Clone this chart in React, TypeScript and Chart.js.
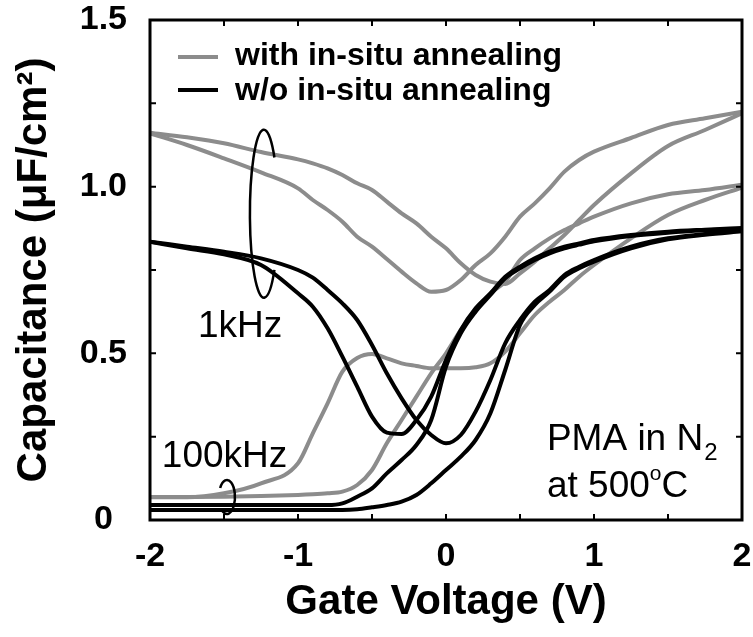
import React, { useEffect, useRef } from 'react';
import { Chart, registerables } from 'chart.js';

Chart.register(...registerables);

// Gate voltage grid (V)
const gateVoltage = [-2, -1.75, -1.5, -1.25, -1, -0.9, -0.8, -0.7, -0.6, -0.5, -0.4, -0.3, -0.2, -0.1, 0, 0.1, 0.2, 0.3, 0.4, 0.5, 0.6, 0.7, 0.8, 0.9, 1, 1.25, 1.5, 1.75, 2];

// with in-situ annealing (gray)
const with1kHzSweepA = [1.16, 1.125, 1.085, 1.043, 0.995, 0.96, 0.93, 0.895, 0.85, 0.82, 0.783, 0.745, 0.71, 0.685, 0.69, 0.72, 0.765, 0.8, 0.85, 0.91, 0.95, 0.995, 1.045, 1.08, 1.105, 1.146, 1.185, 1.205, 1.225];
const with1kHzSweepB = [1.162, 1.148, 1.13, 1.104, 1.082, 1.07, 1.055, 1.035, 1.01, 0.99, 0.955, 0.92, 0.89, 0.85, 0.815, 0.77, 0.735, 0.715, 0.708, 0.74, 0.775, 0.815, 0.855, 0.9, 0.945, 1.04, 1.122, 1.17, 1.22];
const with100kHzSweepA = [0.068, 0.068, 0.08, 0.11, 0.17, 0.26, 0.35, 0.445, 0.486, 0.498, 0.485, 0.47, 0.462, 0.455, 0.455, 0.455, 0.458, 0.47, 0.505, 0.56, 0.615, 0.655, 0.69, 0.73, 0.765, 0.845, 0.915, 0.96, 0.997];
const with100kHzSweepB = [0.069, 0.069, 0.07, 0.072, 0.075, 0.077, 0.08, 0.085, 0.105, 0.15, 0.23, 0.3, 0.37, 0.44, 0.5, 0.57, 0.63, 0.68, 0.715, 0.78, 0.815, 0.845, 0.87, 0.89, 0.91, 0.95, 0.977, 0.99, 1.006];

// w/o in-situ annealing (black)
const without1kHzSweepA = [0.835, 0.815, 0.797, 0.765, 0.68, 0.64, 0.575, 0.49, 0.4, 0.31, 0.262, 0.258, 0.3, 0.37, 0.48, 0.57, 0.635, 0.68, 0.73, 0.76, 0.785, 0.805, 0.82, 0.83, 0.84, 0.855, 0.865, 0.871, 0.876];
const without1kHzSweepB = [0.835, 0.82, 0.805, 0.785, 0.75, 0.727, 0.69, 0.65, 0.6, 0.525, 0.44, 0.365, 0.3, 0.255, 0.23, 0.255, 0.325, 0.42, 0.53, 0.6, 0.655, 0.69, 0.735, 0.76, 0.78, 0.82, 0.845, 0.858, 0.87];
const without100kHzSweepA = [0.045, 0.045, 0.045, 0.045, 0.045, 0.045, 0.045, 0.05, 0.07, 0.095, 0.14, 0.18, 0.225, 0.3, 0.46, 0.56, 0.625, 0.675, 0.725, 0.755, 0.78, 0.8, 0.815, 0.826, 0.836, 0.852, 0.862, 0.869, 0.874];
const without100kHzSweepB = [0.03, 0.03, 0.03, 0.03, 0.03, 0.03, 0.03, 0.03, 0.032, 0.038, 0.045, 0.055, 0.075, 0.11, 0.15, 0.19, 0.24, 0.32, 0.45, 0.585, 0.645, 0.685, 0.73, 0.755, 0.775, 0.815, 0.842, 0.856, 0.866];

const legendLabels = ['with in-situ annealing', 'w/o in-situ annealing'];
const xAxisTitle = 'Gate Voltage (V)';
const yAxisTitle = 'Capacitance (\u03bcF/cm\u00b2)';

const GRAY = '#8c8c8c';
const BLACK = '#000000';
const FONT = '"Liberation Sans", Arial, Helvetica, sans-serif';

const seriesList = [
  { values: without1kHzSweepA, color: BLACK },
  { values: without1kHzSweepB, color: BLACK },
  { values: without100kHzSweepA, color: BLACK },
  { values: without100kHzSweepB, color: BLACK },
  { values: with1kHzSweepA, color: GRAY },
  { values: with1kHzSweepB, color: GRAY },
  { values: with100kHzSweepA, color: GRAY },
  { values: with100kHzSweepB, color: GRAY },
];

const framePlugin = {
  id: 'frameAndNotes',
  afterDatasetsDraw(chart: any) {
    const { ctx, chartArea, scales } = chart;
    const { left, right, top, bottom } = chartArea;
    const xs = scales.x;
    const ys = scales.y;
    const X = (v: number) => xs.getPixelForValue(v);
    const Y = (v: number) => ys.getPixelForValue(v);
    ctx.save();
    ctx.strokeStyle = '#000';
    ctx.lineCap = 'butt';
    const tickLen = 6;
    ctx.lineWidth = 2;
    ctx.beginPath();
    xs.ticks.forEach((t: any) => {
      const px = X(t.value);
      ctx.moveTo(px, bottom); ctx.lineTo(px, bottom - tickLen);
      ctx.moveTo(px, top); ctx.lineTo(px, top + tickLen);
    });
    ys.ticks.forEach((t: any) => {
      const py = Y(t.value);
      ctx.moveTo(left, py); ctx.lineTo(left + tickLen, py);
      ctx.moveTo(right, py); ctx.lineTo(right - tickLen, py);
    });
    ctx.stroke();
    ctx.lineWidth = 3;
    ctx.strokeRect(left, top, right - left, bottom - top);

    // legend
    const lx0 = left + 28, lx1 = left + 68;
    const legendRows = [
      { color: GRAY, lineY: top + 37, textY: top + 45 },
      { color: BLACK, lineY: top + 70, textY: top + 80 },
    ];
    ctx.font = `bold 32px ${FONT}`;
    ctx.textBaseline = 'alphabetic';
    ctx.textAlign = 'left';
    legendRows.forEach((row, i) => {
      ctx.strokeStyle = row.color;
      ctx.lineWidth = 4;
      ctx.beginPath();
      ctx.moveTo(lx0, row.lineY); ctx.lineTo(lx1, row.lineY);
      ctx.stroke();
      ctx.fillStyle = '#000';
      ctx.fillText(legendLabels[i], left + 85, row.textY);
    });

    // frequency loops
    ctx.strokeStyle = '#000';
    ctx.lineWidth = 2.5;
    const deg = Math.PI / 180;
    const loop1 = { v: -1.23, c: 0.919, rv: 0.095, rc: 0.252 };
    ctx.beginPath();
    ctx.ellipse(X(loop1.v), Y(loop1.c), X(loop1.v + loop1.rv) - X(loop1.v), Y(loop1.c) - Y(loop1.c + loop1.rc), 0, 42 * deg, 318 * deg);
    ctx.stroke();
    const loop2 = { v: -1.48, c: 0.069, rv: 0.054, rc: 0.051 };
    ctx.beginPath();
    ctx.ellipse(X(loop2.v), Y(loop2.c), X(loop2.v + loop2.rv) - X(loop2.v), Y(loop2.c) - Y(loop2.c + loop2.rc), 0, 212 * deg, 493 * deg);
    ctx.stroke();

    // annotations
    ctx.fillStyle = '#000';
    ctx.font = `37px ${FONT}`;
    ctx.fillText('1kHz', X(-1.676), Y(0.55));
    ctx.fillText('100kHz', X(-1.92), Y(0.16));
    const pmaX = X(0.682);
    const pmaY = Y(0.21);
    ctx.fillText('PMA in N', pmaX, pmaY);
    const w1 = ctx.measureText('PMA in N').width;
    ctx.font = `24px ${FONT}`;
    ctx.fillText('2', pmaX + w1 + 1, pmaY + 10);
    ctx.font = `37px ${FONT}`;
    const atY = Y(0.069);
    ctx.fillText('at 500', pmaX, atY);
    const w2 = ctx.measureText('at 500').width;
    ctx.font = `21px ${FONT}`;
    ctx.fillText('o', pmaX + w2, atY - 17);
    const w3 = ctx.measureText('o').width;
    ctx.font = `37px ${FONT}`;
    ctx.fillText('C', pmaX + w2 + w3, atY);
    ctx.restore();
  },
};

export default function App() {
  const canvasRef = useRef<HTMLCanvasElement | null>(null);

  useEffect(() => {
    document.body.style.margin = '0';
    const canvas = canvasRef.current;
    if (!canvas) return;
    const chart = new Chart(canvas, {
      type: 'scatter',
      data: {
        datasets: seriesList.map((s) => ({
          data: gateVoltage.map((v, i) => ({ x: v, y: s.values[i] })),
          borderColor: s.color,
          backgroundColor: s.color,
          borderWidth: 4,
          pointRadius: 0,
          pointHoverRadius: 0,
          showLine: true,
          fill: false,
          cubicInterpolationMode: 'monotone' as const,
        })),
      },
      options: {
        animation: false,
        responsive: true,
        maintainAspectRatio: false,
        events: [],
        layout: { padding: { top: 20, right: 11, left: 0, bottom: 0 } },
        plugins: { legend: { display: false }, tooltip: { enabled: false }, title: { display: false } },
        scales: {
          x: {
            type: 'linear',
            min: -2,
            max: 2,
            afterFit: (scale: any) => {
              scale.height = 117;
              scale.paddingLeft = 0;
              scale.paddingRight = 0;
            },
            grid: { display: false, drawTicks: false },
            border: { display: false },
            ticks: {
              stepSize: 0.5,
              autoSkip: false,
              maxRotation: 0,
              padding: 16,
              color: '#000',
              font: { family: FONT, size: 34, weight: 'bold' },
              callback: (value: any) => {
                const v = Number(value);
                return Math.abs(v - Math.round(v)) < 1e-9 ? String(Math.round(v)) : '';
              },
            },
            title: {
              display: true,
              text: xAxisTitle,
              color: '#000',
              font: { family: FONT, size: 42, weight: 'bold' },
              padding: { top: 0, bottom: 9 },
            },
          },
          y: {
            type: 'linear',
            min: 0,
            max: 1.5,
            afterFit: (scale: any) => {
              scale.width = 150;
              scale.paddingTop = 0;
              scale.paddingBottom = 0;
            },
            grid: { display: false, drawTicks: false },
            border: { display: false },
            ticks: {
              stepSize: 0.25,
              autoSkip: false,
              padding: 23,
              crossAlign: 'center',
              color: '#000',
              font: { family: FONT, size: 34, weight: 'bold' },
              callback: (value: any) => {
                const v = Number(value);
                const k = Math.round(v / 0.5);
                if (Math.abs(v - k * 0.5) > 1e-9) return '';
                return v === 0 ? '0' : v.toFixed(1);
              },
            },
            title: {
              display: true,
              text: yAxisTitle,
              color: '#000',
              font: { family: FONT, size: 42, weight: 'bold' },
              padding: { top: 9, bottom: 0 },
            },
          },
        },
      },
      plugins: [framePlugin],
    } as any);
    return () => chart.destroy();
  }, []);

  return (
    <div style={{ position: 'relative', width: 753, height: 637 }}>
      <canvas ref={canvasRef} />
    </div>
  );
}
